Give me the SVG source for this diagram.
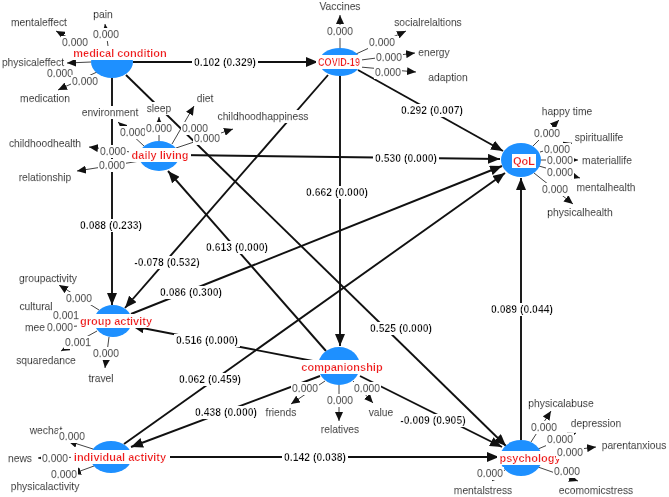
<svg xmlns="http://www.w3.org/2000/svg" width="669" height="497" viewBox="0 0 669 497">
  <style>
    text { font-family: "Liberation Sans", Arial, sans-serif; text-anchor: middle; }
    .st { stroke: #111; stroke-width: 1.9; fill: none; marker-end: url(#ah); }
    .ind { stroke: #444; stroke-width: 1; fill: none; marker-end: url(#ahs); }
    .indn { stroke: #444; stroke-width: 1; fill: none; }
    .node ellipse { fill: #1e90ff; }
    .nlabel { font-size: 11px; font-weight: bold; fill: #f01c1c; filter: url(#bg); }
    .elabel { font-size: 10.4px; font-weight: bold; fill: #111; filter: url(#bg); }
    .load, .item { font-size: 10.3px; fill: #1a1a1a; stroke: #1a1a1a; stroke-width: 0.25px; filter: url(#bg); }
  </style>
  <defs>
    <!-- white box behind a text's own bounding box -->
    <filter id="bg" x="-0.03" y="-0.05" width="1.06" height="1.1">
      <feFlood flood-color="#ffffff" result="f"/>
      <feComposite in="SourceGraphic" in2="f" operator="over"/>
    </filter>
    <marker id="ah" viewBox="0 0 12 10" refX="12" refY="5" markerWidth="12" markerHeight="10" markerUnits="userSpaceOnUse" orient="auto">
      <path d="M0,0 L12,5 L0,10 z" fill="#111"/>
    </marker>
    <marker id="ahs" viewBox="0 0 9 8" refX="9" refY="4" markerWidth="9" markerHeight="8" markerUnits="userSpaceOnUse" orient="auto">
      <path d="M0,0 L9,4 L0,8 z" fill="#111"/>
    </marker>
  </defs>

  <rect width="669" height="497" fill="#fff"/>

  <g id="connectors">
    <!-- structural paths -->
    <line class="st" x1="133" y1="62" x2="318" y2="62"/>
    <line class="st" x1="358" y1="70" x2="503" y2="151"/>
    <line class="st" x1="179" y1="155" x2="500" y2="159"/>
    <line class="st" x1="340" y1="76" x2="340" y2="346"/>
    <line class="st" x1="112" y1="78" x2="112" y2="305"/>
    <line class="st" x1="126" y1="75" x2="506" y2="446"/>
    <line class="st" x1="360" y1="376" x2="502" y2="447"/>
    <line class="st" x1="318" y1="362" x2="132" y2="326"/>
    <line class="st" x1="326" y1="351" x2="168" y2="171"/>
    <line class="st" x1="328" y1="75" x2="125" y2="308"/>
    <line class="st" x1="131" y1="314" x2="502" y2="166"/>
    <line class="st" x1="124" y1="444" x2="505" y2="173"/>
    <line class="st" x1="320" y1="376" x2="131" y2="447"/>
    <line class="st" x1="132" y1="457" x2="499" y2="457"/>
    <line class="st" x1="521" y1="440" x2="521" y2="178"/>

    <!-- measurement items -->
    <line class="ind" x1="108" y1="46" x2="105" y2="24"/>
    <line class="ind" x1="95" y1="52" x2="56" y2="31"/>
    <line class="ind" x1="91" y1="62" x2="67" y2="63"/>
    <line class="ind" x1="97" y1="72" x2="58" y2="90"/>

    <line class="ind" x1="144" y1="146" x2="118" y2="122"/>
    <line class="ind" x1="159" y1="141" x2="159" y2="117"/>
    <line class="ind" x1="172" y1="144" x2="194" y2="106"/>
    <line class="ind" x1="176" y1="148" x2="233" y2="129"/>
    <line class="ind" x1="139" y1="153" x2="89" y2="147"/>
    <line class="ind" x1="140" y1="161" x2="77" y2="171"/>

    <line class="ind" x1="340" y1="48" x2="340" y2="15"/>
    <line class="ind" x1="356" y1="54" x2="406" y2="31"/>
    <line class="ind" x1="361" y1="60" x2="415" y2="53"/>
    <line class="ind" x1="360" y1="67" x2="416" y2="72"/>

    <line class="ind" x1="533" y1="146" x2="559" y2="120"/>
    <line class="ind" x1="540" y1="152" x2="572" y2="143"/>
    <line class="ind" x1="541" y1="160" x2="578" y2="160"/>
    <line class="ind" x1="539" y1="166" x2="580" y2="178"/>
    <line class="ind" x1="534" y1="173" x2="573" y2="204"/>

    <line class="ind" x1="99" y1="310" x2="59" y2="285"/>
    <line class="indn" x1="95" y1="317" x2="70" y2="313"/>
    <line class="indn" x1="94" y1="325" x2="62" y2="327"/>
    <line class="ind" x1="97" y1="331" x2="61" y2="351"/>
    <line class="ind" x1="109" y1="337" x2="105" y2="368"/>

    <line class="ind" x1="325" y1="381" x2="291" y2="404"/>
    <line class="ind" x1="339" y1="385" x2="339" y2="421"/>
    <line class="ind" x1="353" y1="381" x2="373" y2="403"/>

    <line class="ind" x1="93" y1="449" x2="68" y2="441"/>
    <line class="ind" x1="90" y1="457" x2="38" y2="458"/>
    <line class="ind" x1="94" y1="466" x2="72" y2="474"/>

    <line class="ind" x1="531" y1="442" x2="551" y2="411"/>
    <line class="ind" x1="538" y1="449" x2="576" y2="433"/>
    <line class="ind" x1="541" y1="454" x2="596" y2="447"/>
    <line class="ind" x1="506" y1="469" x2="492" y2="481"/>
    <line class="ind" x1="538" y1="467" x2="578" y2="481"/>
  </g>

  <!-- latent constructs -->
  <g id="medical-condition" class="node">
    <ellipse cx="112" cy="62" rx="21" ry="16"/>
    <text class="nlabel" x="120" y="53" dy="0.35em">medical condition</text>
  </g>
  <g id="daily-living" class="node">
    <ellipse cx="159" cy="156" rx="20" ry="15"/>
    <text class="nlabel" x="160" y="155" dy="0.35em">daily living</text>
  </g>
  <g id="covid-19" class="node">
    <ellipse cx="340" cy="62" rx="21" ry="14"/>
    <text class="nlabel" x="339" y="62" dy="0.35em" textLength="42" lengthAdjust="spacingAndGlyphs">COVID-19</text>
  </g>
  <g id="qol" class="node">
    <ellipse cx="521" cy="160" rx="20" ry="17"/>
    <text class="nlabel" x="524" y="161" dy="0.35em">QoL</text>
  </g>
  <g id="group-activity" class="node">
    <ellipse cx="113" cy="321" rx="19" ry="16"/>
    <text class="nlabel" x="116" y="321" dy="0.35em">group activity</text>
  </g>
  <g id="companionship" class="node">
    <ellipse cx="339" cy="366" rx="21" ry="19"/>
    <text class="nlabel" x="342" y="367" dy="0.35em">companionship</text>
  </g>
  <g id="individual-activity" class="node">
    <ellipse cx="111" cy="457" rx="21" ry="16"/>
    <text class="nlabel" x="120" y="457" dy="0.35em">individual activity</text>
  </g>
  <g id="psychology" class="node">
    <ellipse cx="521" cy="458" rx="21" ry="18"/>
    <text class="nlabel" x="530" y="458" dy="0.35em">psychology</text>
  </g>

  <!-- measurement items -->
  <g id="items">
    <g id="item-pain"><text class="item" x="103" y="14" dy="0.35em">pain</text></g>
    <g id="item-mentaleffect"><text class="item" x="39" y="22" dy="0.35em">mentaleffect</text></g>
    <g id="item-physicaleffect"><text class="item" x="33" y="62" dy="0.35em">physicaleffect</text></g>
    <g id="item-medication"><text class="item" x="45" y="98" dy="0.35em">medication</text></g>

    <g id="item-environment"><text class="item" x="110" y="112" dy="0.35em">environment</text></g>
    <g id="item-sleep"><text class="item" x="159" y="108" dy="0.35em">sleep</text></g>
    <g id="item-diet"><text class="item" x="205" y="98" dy="0.35em">diet</text></g>
    <g id="item-childhoodhappiness"><text class="item" x="263" y="116" dy="0.35em">childhoodhappiness</text></g>
    <g id="item-childhoodhealth"><text class="item" x="45" y="143" dy="0.35em">childhoodhealth</text></g>
    <g id="item-relationship"><text class="item" x="45" y="177" dy="0.35em">relationship</text></g>

    <g id="item-vaccines"><text class="item" x="340" y="6" dy="0.35em">Vaccines</text></g>
    <g id="item-socialrelaltions"><text class="item" x="428" y="22" dy="0.35em">socialrelaltions</text></g>
    <g id="item-energy"><text class="item" x="434" y="52" dy="0.35em">energy</text></g>
    <g id="item-adaption"><text class="item" x="448" y="77" dy="0.35em">adaption</text></g>

    <g id="item-happytime"><text class="item" x="567" y="111" dy="0.35em">happy time</text></g>
    <g id="item-spirituallife"><text class="item" x="599" y="137" dy="0.35em">spirituallife</text></g>
    <g id="item-materiallife"><text class="item" x="607" y="160" dy="0.35em">materiallife</text></g>
    <g id="item-mentalhealth"><text class="item" x="606" y="187" dy="0.35em">mentalhealth</text></g>
    <g id="item-physicalhealth"><text class="item" x="580" y="212" dy="0.35em">physicalhealth</text></g>

    <g id="item-groupactivity"><text class="item" x="48" y="278" dy="0.35em">groupactivity</text></g>
    <g id="item-cultural"><text class="item" x="36" y="306" dy="0.35em">cultural</text></g>
    <g id="item-mee"><text class="item" x="35" y="327" dy="0.35em">mee</text></g>
    <g id="item-squaredance"><text class="item" x="46" y="360" dy="0.35em">squaredance</text></g>
    <g id="item-travel"><text class="item" x="101" y="378" dy="0.35em">travel</text></g>

    <g id="item-friends"><text class="item" x="281" y="412" dy="0.35em">friends</text></g>
    <g id="item-relatives"><text class="item" x="340" y="429" dy="0.35em">relatives</text></g>
    <g id="item-value"><text class="item" x="381" y="412" dy="0.35em">value</text></g>

    <g id="item-wechat"><text class="item" x="46" y="430" dy="0.35em">wechat</text></g>
    <g id="item-news"><text class="item" x="20" y="458" dy="0.35em">news</text></g>
    <g id="item-physicalactivity"><text class="item" x="45" y="486" dy="0.35em">physicalactivity</text></g>

    <g id="item-physicalabuse"><text class="item" x="561" y="403" dy="0.35em">physicalabuse</text></g>
    <g id="item-depression"><text class="item" x="596" y="423" dy="0.35em">depression</text></g>
    <g id="item-parentanxious"><text class="item" x="634" y="445" dy="0.35em">parentanxious</text></g>
    <g id="item-mentalstress"><text class="item" x="483" y="490" dy="0.35em">mentalstress</text></g>
    <g id="item-ecomomicstress"><text class="item" x="596" y="490" dy="0.35em">ecomomicstress</text></g>
  </g>

  <!-- path coefficients (p-values) -->
  <g id="path-labels">
    <text class="elabel" x="225" y="62" dy="0.35em">0.102 (0.329)</text>
    <text class="elabel" x="432" y="110" dy="0.35em">0.292 (0.007)</text>
    <text class="elabel" x="406" y="158" dy="0.35em">0.530 (0.000)</text>
    <text class="elabel" x="337" y="192" dy="0.35em">0.662 (0.000)</text>
    <text class="elabel" x="111" y="225" dy="0.35em">0.088 (0.233)</text>
    <text class="elabel" x="237" y="247" dy="0.35em">0.613 (0.000)</text>
    <text class="elabel" x="167" y="262" dy="0.35em">-0.078 (0.532)</text>
    <text class="elabel" x="191" y="292" dy="0.35em">0.086 (0.300)</text>
    <text class="elabel" x="522" y="309" dy="0.35em">0.089 (0.044)</text>
    <text class="elabel" x="401" y="328" dy="0.35em">0.525 (0.000)</text>
    <text class="elabel" x="207" y="340" dy="0.35em">0.516 (0.000)</text>
    <text class="elabel" x="210" y="379" dy="0.35em">0.062 (0.459)</text>
    <text class="elabel" x="226" y="412" dy="0.35em">0.438 (0.000)</text>
    <text class="elabel" x="433" y="420" dy="0.35em">-0.009 (0.905)</text>
    <text class="elabel" x="315" y="457" dy="0.35em">0.142 (0.038)</text>
  </g>

  <!-- outer loadings (p-values) -->
  <g id="loading-labels">
    <text class="load" x="106" y="34" dy="0.35em">0.000</text>
    <text class="load" x="75" y="42" dy="0.35em">0.000</text>
    <text class="load" x="60" y="73" dy="0.35em">0.000</text>
    <text class="load" x="85" y="81" dy="0.35em">0.000</text>

    <text class="load" x="133" y="132" dy="0.35em">0.000</text>
    <text class="load" x="159" y="128" dy="0.35em">0.000</text>
    <text class="load" x="195" y="128" dy="0.35em">0.000</text>
    <text class="load" x="207" y="138" dy="0.35em">0.000</text>
    <text class="load" x="113" y="151" dy="0.35em">0.000</text>
    <text class="load" x="112" y="165" dy="0.35em">0.000</text>

    <text class="load" x="340" y="31" dy="0.35em">0.000</text>
    <text class="load" x="382" y="42" dy="0.35em">0.000</text>
    <text class="load" x="389" y="57" dy="0.35em">0.000</text>
    <text class="load" x="388" y="72" dy="0.35em">0.000</text>

    <text class="load" x="547" y="133" dy="0.35em">0.000</text>
    <text class="load" x="557" y="149" dy="0.35em">0.000</text>
    <text class="load" x="560" y="160" dy="0.35em">0.000</text>
    <text class="load" x="560" y="172" dy="0.35em">0.000</text>
    <text class="load" x="555" y="189" dy="0.35em">0.000</text>

    <text class="load" x="79" y="298" dy="0.35em">0.000</text>
    <text class="load" x="66" y="315" dy="0.35em">0.001</text>
    <text class="load" x="60" y="327" dy="0.35em">0.000</text>
    <text class="load" x="78" y="342" dy="0.35em">0.001</text>
    <text class="load" x="106" y="353" dy="0.35em">0.000</text>

    <text class="load" x="305" y="388" dy="0.35em">0.000</text>
    <text class="load" x="340" y="400" dy="0.35em">0.000</text>
    <text class="load" x="367" y="388" dy="0.35em">0.000</text>

    <text class="load" x="72" y="436" dy="0.35em">0.000</text>
    <text class="load" x="55" y="458" dy="0.35em">0.000</text>
    <text class="load" x="64" y="474" dy="0.35em">0.000</text>

    <text class="load" x="544" y="427" dy="0.35em">0.000</text>
    <text class="load" x="560" y="439" dy="0.35em">0.000</text>
    <text class="load" x="570" y="452" dy="0.35em">0.000</text>
    <text class="load" x="490" y="473" dy="0.35em">0.000</text>
    <text class="load" x="567" y="471" dy="0.35em">0.000</text>
  </g>
</svg>
